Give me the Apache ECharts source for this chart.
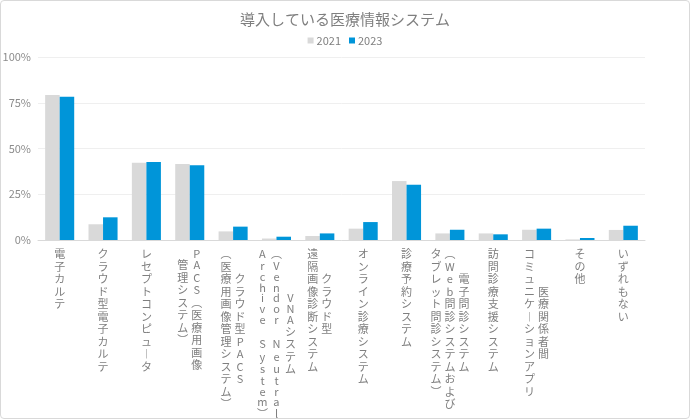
<!DOCTYPE html>
<html>
<head>
<meta charset="utf-8">
<script src="https://cdn.jsdelivr.net/npm/echarts@6/dist/echarts.min.js"></script>
<style>
  html, body { margin: 0; padding: 0; background: #fff; }
  #view1 { width: 690px; height: 419px; box-sizing: border-box; border: 1px solid #d9d9d9; border-radius: 4px; }
</style>
</head>
<body>
<div id="view1"></div>
<script>
var categories = [
  "電子カルテ",
  "クラウド型電子カルテ",
  "レセプトコンピュータ",
  "PACS(医療用画像\n管理システム)",
  "クラウド型PACS\n(医療用画像管理システム)",
  "VNAシステム\n(Vendor Neutral\nArchive System)",
  "クラウド型\n遠隔画像診断システム",
  "オンライン診療システム",
  "診療予約システム",
  "電子問診システム\n(Web問診システムおよび\nタブレット問診システム)",
  "訪問診療支援システム",
  "医療関係者間\nコミュニケーションアプリ",
  "その他",
  "いずれもない"
];
var v2021 = [79.2, 8.6, 42.2, 41.5, 4.7, 0.8, 2.2, 6.2, 32.2, 3.6, 3.6, 5.6, 0.3, 5.5];
var v2023 = [78.3, 12.4, 42.6, 40.8, 7.3, 1.8, 3.6, 9.8, 30.2, 5.6, 3.1, 6.2, 1.1, 7.8];
var years = ["2021", "2023"];

// vertical forms for upright text
var vmap = { "(": "︵", ")": "︶", "ー": "︱" };

// build vertical (top-to-bottom, right-to-left columns) label
function vertical(name) {
  var cols = name.split("\n").reverse().map(function (c) {
    return Array.from(c);
  });
  var max = Math.max.apply(null, cols.map(function (c) { return c.length; }));
  cols = cols.map(function (c) {
    var off = Math.floor((max - c.length) / 2);
    var out = [];
    for (var i = 0; i < max; i++) {
      var k = i - off;
      out.push(k >= 0 && k < c.length ? c[k] : null);
    }
    return out;
  });
  var rows = [];
  for (var r = 0; r < max; r++) {
    rows.push(cols.map(function (c) {
      var ch = c[r];
      if (ch === null) return "{e|　}";
      if (/[ -~]/.test(ch) && !vmap[ch]) return "{h|" + (ch === " " ? "　" : ch) + "}";
      return "{c|" + (vmap[ch] || ch) + "}";
    }).join(""));
  }
  return rows.join("\n");
}

var font = "'Noto Sans CJK JP', 'Noto Sans', sans-serif";

var option = {
  animation: false,
  textStyle: { fontFamily: font },
  title: {
    text: "導入している医療情報システム",
    left: "center",
    top: 6,
    textStyle: { fontSize: 15, fontWeight: "normal", color: "#7f7f7f", fontFamily: font }
  },
  legend: {
    data: years,
    top: 29,
    left: "center",
    itemWidth: 6,
    itemHeight: 6,
    itemGap: 8,
    icon: "rect",
    textStyle: { fontSize: 11, color: "#7f7f7f", padding: [0, 0, 0, -2] }
  },
  grid: {
    left: 37,
    right: 44,
    top: 56,
    bottom: 178,
    outerBoundsMode: "none"
  },
  xAxis: {
    type: "category",
    data: categories,
    axisTick: { show: false },
    axisLine: { lineStyle: { color: "#d9d9d9" } },
    axisLabel: {
      interval: 0,
      margin: 8,
      formatter: vertical,
      rich: {
        c: { fontSize: 11, lineHeight: 12.5, width: 14, align: "center", color: "#7f7f7f", fontFamily: font },
        h: { fontSize: 11, lineHeight: 10.8, width: 14, align: "center", color: "#7f7f7f", fontFamily: font },
        e: { fontSize: 11, lineHeight: 1, width: 14, align: "center", color: "rgba(0,0,0,0)", fontFamily: font }
      }
    }
  },
  yAxis: {
    type: "value",
    min: 0,
    max: 100,
    interval: 25,
    axisLabel: { formatter: "{value}%", fontSize: 11, color: "#8c8c8c", margin: 7 },
    splitLine: { lineStyle: { color: "#efefef" } }
  },
  series: [
    {
      name: years[0],
      type: "bar",
      data: v2021,
      barGap: "0%",
      barCategoryGap: "33%",
      itemStyle: { color: "#d9d9d9" }
    },
    {
      name: years[1],
      type: "bar",
      data: v2023,
      barGap: "0%",
      barCategoryGap: "33%",
      itemStyle: { color: "#0095d9" }
    }
  ]
};

echarts.init(document.getElementById("view1")).setOption(option);
</script>
</body>
</html>
